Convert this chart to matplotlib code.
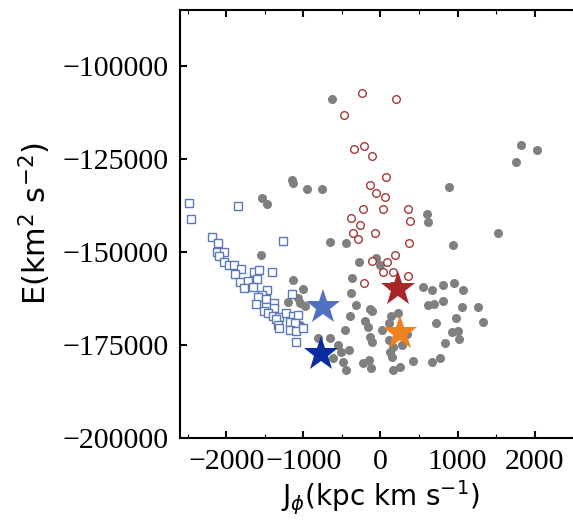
import matplotlib
matplotlib.use("Agg")
import matplotlib.pyplot as plt
from matplotlib.ticker import MultipleLocator

# Gray filled dots (J_phi, E)
gray_x = [-633, -1147, -1140, -958, -763, -1531, -1466, 892, 1824, 2033, 1759, 606, 619, 1519,
          940, -659, -442, -1547, -278, -52, 0, -373, -1137, -1007, -377, -312, -393, -139,
          -104, -204, -161, -139, -104, -464, -408, -486, -451, -226, -148, -117, 134, 229,
          112, 156, 143, 164, 251, 424, 554, 667, 810, 956, 1070, 622, 700, 814, 1053, 1263,
          719, 975, 1326, 927, 1005, 1018, 836, 663, 771, 13, 338, -1202, -1072, -1049, -984,
          -811, -659, -551, -507, -616, -1092, -1049, 273, 108, 121]
gray_y = [-109000, -130730, -131540, -133015, -133015, -135490, -137260, -132690, -121320,
          -122670, -125760, -139870, -142020, -144900, -148260, -147315, -147665, -150890,
          -152640, -151780, -153580, -157150, -157610, -160110, -161185, -164330, -167290,
          -165270, -165860, -168550, -170160, -172850, -174200, -171050, -176430, -179570,
          -181800, -180000, -179110, -181345, -167290, -166560, -169090, -175540, -178230,
          -181800, -180915, -179250, -159490, -160300, -158950, -158340, -160300, -164330,
          -164060, -163255, -164920, -164920, -169250, -167905, -168900, -171510, -171185,
          -173335, -174625, -179650, -178660, -171050, -172125, -163440, -162530, -163710,
          -164600, -173280, -173280, -175080, -176880, -178660, -167475, -169700, -175080,
          -173740, -176880]

# Open blue squares
sq_x = [-2489, -2458, -1852, -2190, -2112, -1258, -2125, -2025, -2090, -2025, -1960, -1895,
        -1808, -1882, -1817, -1722, -1635, -1579, -1600, -1404, -1765, -1648, -1475, -1534,
        -1592, -1482, -1375, -1612, -1482, -1375, -1505, -1462, -1397, -1310, -1222, -1137,
        -1072, -1153, -1352, -1332, -1310, -1179, -1114, -1179, -1092, -1007, -1101]
sq_y = [-136990, -141210, -137640, -145970, -147580, -147050, -150000, -150000, -151160,
        -152690, -153580, -153580, -154650, -156000, -158070, -157880, -155380, -154920,
        -157420, -155380, -159840, -159570, -160300, -161640, -162260, -162800, -163710,
        -164060, -164790, -165220, -165940, -166560, -167290, -167475, -166560, -167290,
        -167020, -161370, -168090, -169700, -170430, -168820, -169250, -171050, -171320,
        -170590, -174200]

# Open red circles
rc_x = [-234, 203, -477, -343, -217, -109, 73, -139, -52, 56, -226, 36, 362, 385, -377,
        -260, -356, -291, -74, 372, 186, -113, 88, 26, 156, 359, -217, 143]
rc_y = [-107265, -108957, -113260, -122400, -121590, -124280, -130000, -132070, -134300,
        -135165, -138600, -138600, -138600, -141670, -141025, -142830, -145060, -146670,
        -144900, -147580, -150890, -152500, -152830, -155460, -155460, -156535, -158500,
        -159090]

# Stars
star_x = [-746, -767, 229, 251]
star_y = [-164950, -177580, -160110, -171940]
star_colors = ["#5070c0", "#0b2ca0", "#a82628", "#f08020"]

fig = plt.figure(figsize=(5.73, 5.22), dpi=100)
ax = fig.add_axes([180 / 573, (522 - 437.7) / 522, (581 - 180) / 573, (437.7 - 10) / 522])

ax.plot(gray_x, gray_y, 'o', color='#7f7f7f', markersize=6.5, markeredgewidth=0, zorder=2)
ax.plot(sq_x, sq_y, 's', markerfacecolor='white', markeredgecolor='#5a78b8',
        markersize=5.5, markeredgewidth=1.0, zorder=3)
ax.plot(rc_x, rc_y, 'o', markerfacecolor='white', markeredgecolor='#a33838',
        markersize=5.5, markeredgewidth=1.0, zorder=3)
for x, y, c in zip(star_x, star_y, star_colors):
    ax.plot([x], [y], '*', color=c, markersize=26, markeredgewidth=0, zorder=5)

ax.set_xlim(-2600, 2600)
ax.set_ylim(-200000, -85000)
ax.xaxis.set_major_locator(MultipleLocator(1000))
ax.xaxis.set_minor_locator(MultipleLocator(500))
ax.yaxis.set_major_locator(MultipleLocator(25000))

for s in ax.spines.values():
    s.set_linewidth(1.5)
ax.tick_params(which='major', direction='in', length=5, width=1.5, top=True, right=True,
               labelsize=21.5, pad=8)
ax.tick_params(which='minor', direction='in', length=3, width=0.8, top=True)
for lab in ax.get_xticklabels() + ax.get_yticklabels():
    lab.set_family('Liberation Serif')

ax.set_xlabel(r'J$_{\phi}$(kpc km s$^{-1}$)', fontsize=20, labelpad=3)
ax.set_ylabel(r'E(km$^{2}$ s$^{-2}$)', fontsize=22, labelpad=7)

fig.savefig('out.png', dpi=100)
